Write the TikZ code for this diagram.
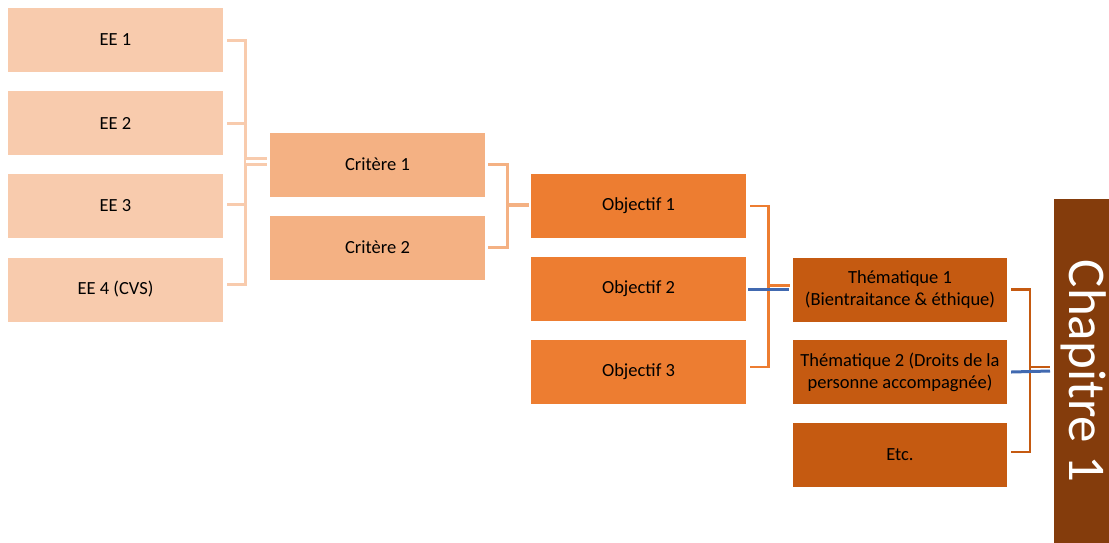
\documentclass[tikz,border=0pt]{standalone}
\usepackage{fontspec}
\setmainfont{Carlito}
\definecolor{cEE}{HTML}{F8CBAD}
\definecolor{cCr}{HTML}{F4B183}
\definecolor{cOb}{HTML}{ED7D31}
\definecolor{cTh}{HTML}{C55A11}
\definecolor{cCh}{HTML}{843C0C}
\definecolor{cBl}{HTML}{4169B0}
\tikzset{
  boxbase/.style={rectangle, inner sep=0pt, minimum width=215pt, minimum height=64pt, align=center, text=black, font=\fontsize{18.5}{22}\selectfont},
  eebox/.style={boxbase, fill=cEE},
  crbox/.style={boxbase, fill=cCr},
  obbox/.style={boxbase, fill=cOb},
  thbox/.style={boxbase, fill=cTh, minimum width=214pt},
  eel/.style={draw=cEE, line width=3pt},
  crl/.style={draw=cCr, line width=3pt},
  obl/.style={draw=cOb, line width=2.6pt},
  thl/.style={draw=cTh, line width=2.6pt},
  bll/.style={draw=cBl, line width=3pt},
}
\begin{document}
\begin{tikzpicture}[x=1pt,y=-1pt]
\useasboundingbox (0,0) rectangle (1109,542);
% EE boxes
\node[eebox] (ee1) at (115.5,40) {EE 1};
\node[eebox] (ee2) at (115.5,123) {EE 2};
\node[eebox] (ee3) at (115.5,206) {EE 3};
\node[eebox] (ee4) at (115.5,289.5) {EE 4 (CVS)};
% Criteres
\node[crbox] (cr1) at (377.5,164.5) {Critère 1};
\node[crbox] (cr2) at (377.5,247.5) {Critère 2};
% Objectifs
\node[obbox] (ob1) at (638.5,206) {Objectif 1};
\node[obbox] (ob2) at (638.5,289) {Objectif 2};
\node[obbox] (ob3) at (638.5,372) {Objectif 3};
% Thematiques
\node[thbox] (th1) at (900,289.5) {Thématique 1\\(Bientraitance \& éthique)};
\node[thbox] (th2) at (900,372) {Thématique 2 (Droits de la\\personne accompagnée)};
\node[thbox] (th3) at (900,455) {Etc.};
% Chapitre
\path[fill=cCh] (1054,199) rectangle (1115,548);
\node[rotate=-90, text=white, font=\fontsize{53}{60}\selectfont, inner sep=0pt] (ch) at (1084,371) {Chapitre 1};
\coordinate (chw) at (1054,371);
% EE bracket
\coordinate (eej) at (245.5,161.5);
\draw[eel] ([xshift=4pt]ee1.east) -| (eej);
\draw[eel] ([xshift=4pt,yshift=5pt]ee4.east) -| (eej);
\draw[eel] ([xshift=4pt,yshift=1.5pt]ee3.east) -- ([yshift=1.5pt]ee3.east -| eej);
\draw[eel] ([xshift=4pt]ee2.east) -- (ee2.east -| eej);
\draw[draw=cEE, line width=3pt, double=white, double distance=2.2pt] (eej) -- ([xshift=-3pt]eej -| cr1.west);
% Critere bracket
\coordinate (crj) at (507,205);
\draw[crl] ([xshift=3pt]cr1.east) -| (crj);
\draw[crl] ([xshift=3pt]cr2.east) -| (crj);
\draw[draw=cCr, line width=3.5pt] (crj) -- ([xshift=-2pt]crj -| ob1.west);
% Objectif bracket
\coordinate (obj) at (768.5,285.5);
\draw[obl] ([xshift=4pt]ob1.east) -| (obj);
\draw[obl] ([xshift=4pt,yshift=5pt]ob3.east) -| (obj);
\draw[obl] (obj) -- ([xshift=-3pt]obj -| th1.west);
\draw[bll] ([xshift=2pt]ob2.east) -- ([xshift=-4pt]ob2.east -| th1.west);
% Thematique bracket
\coordinate (thj) at (1030,367);
\draw[thl] ([xshift=4pt]th1.east) -| (thj);
\draw[thl] ([xshift=4pt,yshift=3pt]th3.east) -| (thj);
\draw[thl] (thj) -- ([xshift=-4pt]thj -| chw);
\draw[bll] ([xshift=4pt]th2.east) -- ([xshift=-4pt]chw);
\end{tikzpicture}
\end{document}
